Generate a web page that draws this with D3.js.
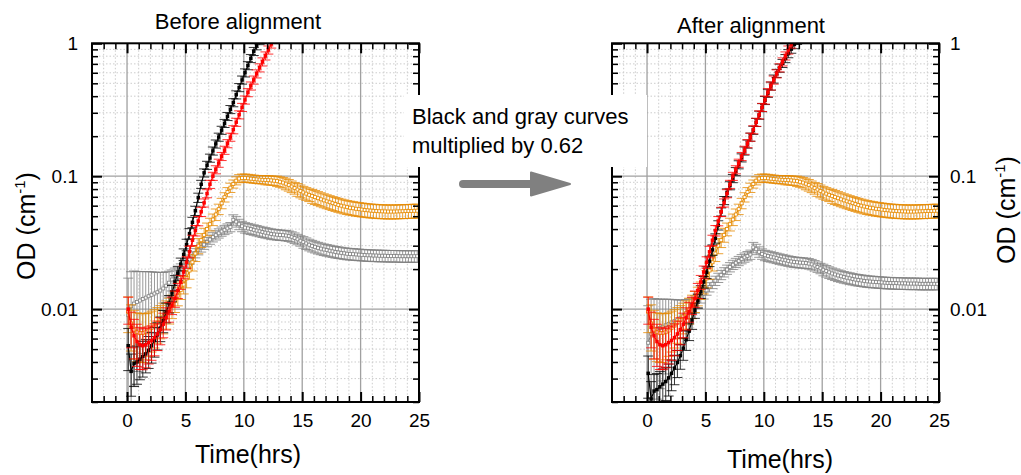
<!DOCTYPE html>
<html>
<head>
<meta charset="utf-8">
<script src="https://cdn.jsdelivr.net/npm/d3@7"></script>
<style>
  body { margin: 0; background: #fff; }
  svg { display: block; }
  text { font-family: "Liberation Sans", Arial, sans-serif; fill: #000; }
</style>
</head>
<body>
<svg id="chart" width="1021" height="475"></svg>
<script>
// plate reader grid: first read at 0.1 h, then one read every 15 min
const t0 = 0.1;
const dt = 0.25;
// factor written on the figure, applied to black and gray in the second panel
const scaleFactor = 0.62;

const xTicks = [0, 5, 10, 15, 20, 25];
const yTicks = [0.01, 0.1, 1];
const yTickLabels = ['0.01', '0.1', '1'];

const blackOD = [
  0.0053, 0.0034, 0.0039, 0.0040, 0.0042, 0.0044, 0.0046, 0.0049, 0.0053, 0.0058,
  0.0064, 0.0072, 0.0082, 0.0095, 0.0110, 0.0132, 0.0158, 0.0186, 0.0218, 0.0258,
  0.0305, 0.0370, 0.0450, 0.0550, 0.0690, 0.0870, 0.1060, 0.1210, 0.1370, 0.1550,
  0.175, 0.197, 0.222, 0.250, 0.282, 0.318, 0.358, 0.410, 0.465, 0.530,
  0.600, 0.680, 0.770, 0.870, 0.960, 1.050, 1.140, 1.240, 1.350, 1.460,
  1.580, 1.700
];
const redOD = [
  0.0100, 0.0073, 0.0063, 0.0057, 0.0054, 0.0053, 0.0054, 0.0056, 0.0058, 0.0061,
  0.0065, 0.0070, 0.0077, 0.0086, 0.0096, 0.0107, 0.0120, 0.0138, 0.0160, 0.0190,
  0.0225, 0.0270, 0.0330, 0.0390, 0.0460, 0.0540, 0.0630, 0.0740, 0.0870, 0.1000,
  0.112, 0.1255, 0.141, 0.157, 0.176, 0.197, 0.224, 0.255, 0.290, 0.330,
  0.375, 0.426, 0.478, 0.530, 0.590, 0.655, 0.726, 0.805, 0.892, 0.990,
  1.100
];
const orangeOD = [
  0.0095, 0.0078, 0.0070, 0.0067, 0.0066, 0.0066, 0.0067, 0.0069, 0.0072, 0.0075,
  0.0079, 0.0083, 0.0088, 0.0093, 0.0099, 0.0106, 0.0115, 0.0126, 0.0139, 0.0153,
  0.0170, 0.0195, 0.0225, 0.0262, 0.0300, 0.0330, 0.0362, 0.0400, 0.0435, 0.0472,
  0.0515, 0.0565, 0.0625, 0.0695, 0.0760, 0.0820, 0.0875, 0.0925, 0.0960, 0.0970,
  0.0970, 0.0965, 0.0958, 0.0952, 0.0947, 0.0943, 0.0940, 0.0937, 0.0934, 0.0930,
  0.0925, 0.0918, 0.0908, 0.0895, 0.0878, 0.0858, 0.0836, 0.0814, 0.0793, 0.0773,
  0.0755, 0.0739, 0.0724, 0.0710, 0.0696, 0.0683, 0.0670, 0.0658, 0.0647, 0.0637,
  0.0627, 0.0617, 0.0608, 0.0600, 0.0592, 0.0585, 0.0579, 0.0574, 0.0569, 0.0565,
  0.0561, 0.0557, 0.0554, 0.0551, 0.0549, 0.0547, 0.0545, 0.0544, 0.0543, 0.0542,
  0.0542, 0.0542, 0.0543, 0.0544, 0.0545, 0.0546, 0.0547, 0.0548, 0.0549, 0.0550
];
const grayOD = [
  0.0090, 0.0105, 0.0110, 0.0113, 0.0116, 0.0119, 0.0122, 0.0125, 0.0128, 0.0131,
  0.0134, 0.0138, 0.0143, 0.0150, 0.0158, 0.0167, 0.0177, 0.0188, 0.0199, 0.0211,
  0.0223, 0.0236, 0.0250, 0.0264, 0.0278, 0.0292, 0.0306, 0.0320, 0.0334, 0.0348,
  0.0360, 0.0372, 0.0384, 0.0395, 0.0405, 0.0415, 0.0470, 0.0455, 0.0435, 0.0420,
  0.0410, 0.0405, 0.0400, 0.0395, 0.0390, 0.0385, 0.0380, 0.0376, 0.0372, 0.0368,
  0.0365, 0.0363, 0.0361, 0.0360, 0.0358, 0.0355, 0.0350, 0.0343, 0.0335, 0.0327,
  0.0319, 0.0312, 0.0305, 0.0299, 0.0294, 0.0289, 0.0285, 0.0281, 0.0278, 0.0275,
  0.0272, 0.0269, 0.0267, 0.0265, 0.0263, 0.0261, 0.0260, 0.0259, 0.0258, 0.0257,
  0.0256, 0.0255, 0.0254, 0.0254, 0.0253, 0.0253, 0.0252, 0.0252, 0.0252, 0.0251,
  0.0251, 0.0251, 0.0251, 0.0250, 0.0250, 0.0250, 0.0250, 0.0250, 0.0250, 0.0250
];

// error bars as a fraction of the value (SD / mean)
const blackErr = [
  0.35, 0.35, 0.33, 0.32, 0.30, 0.30, 0.28, 0.27, 0.26, 0.25,
  0.23, 0.21, 0.19, 0.17, 0.15, 0.14, 0.13, 0.12, 0.11, 0.10,
  0.10, 0.09, 0.09, 0.08, 0.08, 0.07, 0.07, 0.07, 0.07, 0.07,
  0.07, 0.07, 0.07, 0.07, 0.07, 0.07, 0.07, 0.07, 0.07, 0.07,
  0.07, 0.07, 0.07, 0.07, 0.07, 0.07, 0.07, 0.07, 0.07, 0.07,
  0.07, 0.07
];
const redErr = [
  0.23, 0.30, 0.33, 0.35, 0.35, 0.34, 0.33, 0.31, 0.29, 0.27,
  0.25, 0.23, 0.21, 0.19, 0.17, 0.15, 0.14, 0.13, 0.12, 0.11,
  0.10, 0.10, 0.09, 0.09, 0.08, 0.08, 0.07, 0.07, 0.07, 0.07,
  0.07, 0.07, 0.07, 0.07, 0.07, 0.07, 0.07, 0.07, 0.07, 0.07,
  0.07, 0.07, 0.07, 0.07, 0.07, 0.07, 0.07, 0.07, 0.07, 0.07,
  0.07
];
const orangeErr = [
  0.30, 0.38, 0.40, 0.40, 0.40, 0.40, 0.38, 0.36, 0.34, 0.32,
  0.30, 0.28, 0.26, 0.24, 0.22, 0.20, 0.18, 0.16, 0.15, 0.15,
  0.15, 0.14, 0.14, 0.13, 0.13, 0.12, 0.12, 0.11, 0.11, 0.10,
  0.10, 0.09, 0.09, 0.08, 0.08, 0.08, 0.07, 0.07, 0.07, 0.07,
  0.07, 0.07, 0.07, 0.07, 0.07, 0.07, 0.07, 0.08, 0.08, 0.08,
  0.08, 0.09, 0.09, 0.09, 0.10, 0.10, 0.10, 0.10, 0.11, 0.11,
  0.11, 0.11, 0.11, 0.12, 0.12, 0.12, 0.12, 0.12, 0.12, 0.12,
  0.12, 0.12, 0.12, 0.12, 0.12, 0.12, 0.12, 0.12, 0.12, 0.12,
  0.12, 0.12, 0.12, 0.12, 0.12, 0.12, 0.12, 0.12, 0.12, 0.12,
  0.12, 0.12, 0.12, 0.12, 0.12, 0.12, 0.12, 0.12, 0.12, 0.12
];
const grayErr = [
  0.90, 0.82, 0.76, 0.70, 0.65, 0.61, 0.57, 0.53, 0.49, 0.45,
  0.41, 0.37, 0.32, 0.27, 0.22, 0.18, 0.15, 0.12, 0.10, 0.09,
  0.08, 0.08, 0.08, 0.08, 0.08, 0.08, 0.08, 0.08, 0.08, 0.08,
  0.08, 0.08, 0.08, 0.08, 0.08, 0.08, 0.09, 0.09, 0.09, 0.09,
  0.09, 0.09, 0.09, 0.09, 0.09, 0.09, 0.09, 0.09, 0.09, 0.09,
  0.09, 0.09, 0.09, 0.09, 0.09, 0.09, 0.09, 0.09, 0.09, 0.09,
  0.10, 0.10, 0.10, 0.10, 0.10, 0.10, 0.10, 0.10, 0.10, 0.10,
  0.10, 0.10, 0.10, 0.10, 0.10, 0.10, 0.10, 0.10, 0.10, 0.10,
  0.10, 0.10, 0.10, 0.10, 0.10, 0.10, 0.10, 0.10, 0.10, 0.10,
  0.10, 0.10, 0.10, 0.10, 0.10, 0.10, 0.10, 0.10, 0.10, 0.10
];

const svg = d3.select('#chart');
const plotTop = 43.3, plotBottom = 402;
const xDomain = [-3, 25];
const yDomain = [0.002, 1];

const panels = [
  {title: 'Before alignment', left: 92, right: 419, titleX: 238, titleY: 29,
   xLabX: 248, xLabY: 463, side: 'left', yLabX: 35, yLabY: 226, factor: 1},
  {title: 'After alignment', left: 612, right: 939, titleX: 751, titleY: 33,
   xLabX: 780, xLabY: 468, side: 'right', yLabX: 1015, yLabY: 210, factor: scaleFactor}
];

// drawing order: gray at the back, red on top
const series = [
  {values: grayOD, err: grayErr, color: '#808080', aligned: true, solid: false},
  {values: orangeOD, err: orangeErr, color: '#e68a00', aligned: false, solid: false},
  {values: blackOD, err: blackErr, color: '#000000', aligned: true, solid: true},
  {values: redOD, err: redErr, color: '#ff0000', aligned: false, solid: true}
];

const xMinor = d3.range(-2, 25).filter(v => v % 5 !== 0);
const yMinor = [];
[0.001, 0.01, 0.1].forEach(dec => {
  d3.range(2, 10).forEach(m => {
    const v = +(m * dec).toPrecision(3);
    if (v >= yDomain[0] && v < yDomain[1]) yMinor.push(v);
  });
});

function styleAxis(sel, width) {
  sel.select('.domain').remove();
  sel.selectAll('.tick line').attr('stroke', '#000').attr('stroke-width', width);
  sel.attr('font-size', 19).attr('font-family', '"Liberation Sans", Arial, sans-serif');
  sel.selectAll('.tick text').attr('fill', '#000');
}

panels.forEach((p, pi) => {
  const x = d3.scaleLinear().domain(xDomain).range([p.left, p.right]);
  const y = d3.scaleLog().domain(yDomain).range([plotBottom, plotTop]);
  const g = svg.append('g');

  const clipId = 'clip' + pi;
  svg.append('clipPath').attr('id', clipId).append('rect')
    .attr('x', p.left).attr('y', plotTop)
    .attr('width', p.right - p.left).attr('height', plotBottom - plotTop);

  // grid
  const grid = g.append('g');
  grid.selectAll('line.xm').data(xMinor).join('line').attr('class', 'xm')
    .attr('x1', d => x(d)).attr('x2', d => x(d))
    .attr('y1', plotTop).attr('y2', plotBottom)
    .attr('stroke', '#cccccc').attr('stroke-width', 1).attr('stroke-dasharray', '1.5,2');
  grid.selectAll('line.ym').data(yMinor).join('line').attr('class', 'ym')
    .attr('x1', p.left).attr('x2', p.right)
    .attr('y1', d => y(d)).attr('y2', d => y(d))
    .attr('stroke', '#cccccc').attr('stroke-width', 1).attr('stroke-dasharray', '1.5,2');
  grid.selectAll('line.xM').data(xTicks.filter(v => v < xDomain[1])).join('line').attr('class', 'xM')
    .attr('x1', d => x(d)).attr('x2', d => x(d))
    .attr('y1', plotTop).attr('y2', plotBottom)
    .attr('stroke', '#a0a0a0').attr('stroke-width', 1.3);
  grid.selectAll('line.yM').data(yTicks.filter(v => v < yDomain[1])).join('line').attr('class', 'yM')
    .attr('x1', p.left).attr('x2', p.right)
    .attr('y1', d => y(d)).attr('y2', d => y(d))
    .attr('stroke', '#a0a0a0').attr('stroke-width', 1.3);

  // data
  const data = g.append('g').attr('clip-path', `url(#${clipId})`);
  series.forEach(s => {
    const f = s.aligned ? p.factor : 1;
    const pts = s.values.map((v, i) => {
      const val = v * f;
      const e = s.err[i] * val;
      return {t: t0 + i * dt, v: val, hi: val + e, lo: val - e};
    });
    const sg = data.append('g');
    const cap = 5;
    sg.selectAll('path.err').data(pts).join('path').attr('class', 'err')
      .attr('d', d => {
        const px = x(d.t);
        const yh = y(d.hi);
        const yl = d.lo > 0 ? y(d.lo) : plotBottom + 20;
        let path = `M${px},${yh}V${yl}M${px - cap},${yh}H${px + cap}`;
        if (d.lo > 0) path += `M${px - cap},${yl}H${px + cap}`;
        return path;
      })
      .attr('fill', 'none').attr('stroke', s.color)
      .attr('stroke-opacity', 0.8).attr('stroke-width', 1);
    sg.append('path').datum(pts)
      .attr('d', d3.line().x(d => x(d.t)).y(d => y(d.v)))
      .attr('fill', 'none').attr('stroke', s.color).attr('stroke-width', 1.2);
    const ms = s.solid ? 3.5 : 3;
    sg.selectAll('rect').data(pts).join('rect')
      .attr('x', d => x(d.t) - ms / 2).attr('y', d => y(d.v) - ms / 2)
      .attr('width', ms).attr('height', ms)
      .attr('fill', s.solid ? s.color : '#fff')
      .attr('stroke', s.color).attr('stroke-width', s.solid ? 0 : 0.8);
  });

  // axes, ticks pointing inward
  const bottomAx = g.append('g').attr('transform', `translate(0,${plotBottom})`)
    .call(d3.axisBottom(x).tickValues(xTicks).tickSize(-10).tickPadding(12).tickFormat(d3.format('d')));
  styleAxis(bottomAx, 2);
  styleAxis(g.append('g').attr('transform', `translate(0,${plotBottom})`)
    .call(d3.axisBottom(x).tickValues(xMinor).tickSize(-6).tickFormat('')), 1.5);
  styleAxis(g.append('g').attr('transform', `translate(0,${plotTop})`)
    .call(d3.axisTop(x).tickValues(xTicks).tickSize(-10).tickFormat('')), 2);
  styleAxis(g.append('g').attr('transform', `translate(0,${plotTop})`)
    .call(d3.axisTop(x).tickValues(xMinor).tickSize(-6).tickFormat('')), 1.5);

  const labelFmt = d => yTickLabels[yTicks.indexOf(d)];
  const leftAx = d3.axisLeft(y).tickValues(yTicks).tickSize(-10).tickPadding(14)
    .tickFormat(p.side === 'left' ? labelFmt : '');
  const rightAx = d3.axisRight(y).tickValues(yTicks).tickSize(-10).tickPadding(11)
    .tickFormat(p.side === 'right' ? labelFmt : '');
  styleAxis(g.append('g').attr('transform', `translate(${p.left},0)`).call(leftAx), 2);
  styleAxis(g.append('g').attr('transform', `translate(${p.left},0)`)
    .call(d3.axisLeft(y).tickValues(yMinor).tickSize(-6).tickFormat('')), 1.5);
  styleAxis(g.append('g').attr('transform', `translate(${p.right},0)`).call(rightAx), 2);
  styleAxis(g.append('g').attr('transform', `translate(${p.right},0)`)
    .call(d3.axisRight(y).tickValues(yMinor).tickSize(-6).tickFormat('')), 1.5);

  // frame
  g.append('rect')
    .attr('x', p.left).attr('y', plotTop)
    .attr('width', p.right - p.left).attr('height', plotBottom - plotTop)
    .attr('fill', 'none').attr('stroke', '#000').attr('stroke-width', 2);

  // texts
  g.append('text').attr('x', p.titleX).attr('y', p.titleY)
    .attr('text-anchor', 'middle').style('font-size', '22px').text(p.title);
  g.append('text').attr('x', p.xLabX).attr('y', p.xLabY)
    .attr('text-anchor', 'middle').style('font-size', '25px').text('Time(hrs)');
  const yl = g.append('text')
    .attr('transform', `translate(${p.yLabX},${p.yLabY}) rotate(-90)`)
    .attr('text-anchor', 'middle').style('font-size', '25px');
  yl.append('tspan').text('OD (cm');
  yl.append('tspan').attr('dy', -10).style('font-size', '15px').text('-1');
  yl.append('tspan').attr('dy', 10).text(')');
});

// note between the panels, on a white box
const note = svg.append('g');
note.append('rect').attr('x', 404).attr('y', 95).attr('width', 243).attr('height', 72).attr('fill', '#fff');
note.append('text').attr('x', 412).attr('y', 124).style('font-size', '22px').text('Black and gray curves');
note.append('text').attr('x', 412).attr('y', 153).style('font-size', '22px').text('multiplied by ' + scaleFactor);

// arrow
note.append('line').attr('x1', 463).attr('y1', 184).attr('x2', 540).attr('y2', 184)
  .attr('stroke', '#808080').attr('stroke-width', 8).attr('stroke-linecap', 'round');
note.append('path').attr('d', 'M531,172.5L570,184L531,195.5Z')
  .attr('fill', '#808080').attr('stroke', '#808080').attr('stroke-width', 2).attr('stroke-linejoin', 'round');
</script>
</body>
</html>
